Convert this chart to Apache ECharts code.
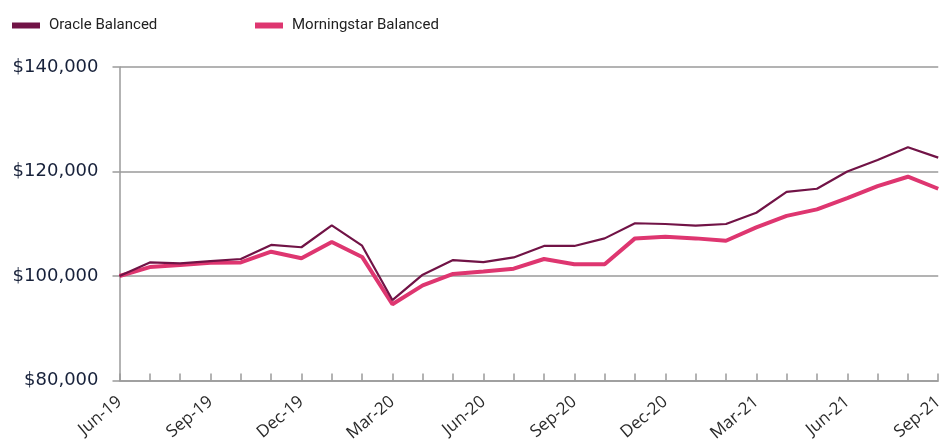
<!DOCTYPE html>
<html><head><meta charset="utf-8">
<script src="https://cdn.jsdelivr.net/npm/echarts@6/dist/echarts.min.js"></script>
<style>html,body{margin:0;padding:0;background:#fff}#c{width:946px;height:446px}</style>
</head><body><div id="c"></div>
<script>
const categories = ['Jun-19','Jul-19','Aug-19','Sep-19','Oct-19','Nov-19','Dec-19','Jan-20','Feb-20','Mar-20','Apr-20','May-20','Jun-20','Jul-20','Aug-20','Sep-20','Oct-20','Nov-20','Dec-20','Jan-21','Feb-21','Mar-21','Apr-21','May-21','Jun-21','Jul-21','Aug-21','Sep-21'];
const oracleBalanced = [100000,102600,102400,102850,103250,105950,105500,109700,105800,95400,100250,103050,102650,103550,105750,105750,107200,110100,109950,109650,109950,112100,116100,116700,120000,122200,124650,122650];
const morningstarBalanced = [100000,101700,102100,102550,102600,104650,103400,106500,103650,94600,98200,100400,100850,101400,103250,102250,102250,107200,107500,107200,106750,109300,111500,112750,114900,117200,119000,116700];
const seriesNames = ['Oracle Balanced','Morningstar Balanced'];

const chart = echarts.init(document.getElementById('c'), null, {renderer:'canvas'});
const legendText = {fontFamily:'Roboto', fontSize:15, color:'#222', padding:[0,0,0,4]};
const legendBase = {top:13, icon:'path://M0,0H28V6H0Z', itemWidth:28, itemHeight:6, textStyle:legendText,
  itemStyle:{borderWidth:0}, lineStyle:{width:0}};
chart.setOption({
  animation:false,
  legend:[
    Object.assign({data:[seriesNames[0]], left:7}, legendBase),
    Object.assign({data:[seriesNames[1]], left:250}, legendBase)
  ],
  grid:{left:119.5, right:2.5, top:67, bottom:65.5, containLabel:false},
  xAxis:{
    type:'category', data:categories, boundaryGap:false,
    axisLine:{lineStyle:{color:'#9a9a9a', width:1.5}},
    axisTick:{show:true, inside:true, length:7, interval:0, lineStyle:{color:'#9a9a9a', width:1.5}},
    axisLabel:{interval:2, rotate:40, margin:19, fontFamily:'Open Sans', fontSize:17, color:'#2a2a2a'}
  },
  yAxis:{
    type:'value', min:80000, max:140000, interval:20000,
    axisLine:{show:true, lineStyle:{color:'#9a9a9a', width:1.5}},
    axisTick:{show:true, length:7, lineStyle:{color:'#9a9a9a', width:1.5}},
    splitLine:{lineStyle:{color:'#9a9a9a', width:1.5}},
    axisLabel:{margin:21, fontFamily:'DejaVu Sans', fontSize:18, color:'#17213a',
      formatter:v=>'$'+v.toLocaleString('en-US')}
  },
  series:[
    {name:seriesNames[1], type:'line', data:morningstarBalanced, showSymbol:false, symbol:'none',
      lineStyle:{color:'#de3670', width:4}, itemStyle:{color:'#de3670'}, z:2},
    {name:seriesNames[0], type:'line', data:oracleBalanced, showSymbol:false, symbol:'none',
      lineStyle:{color:'#711346', width:2.2}, itemStyle:{color:'#711346'}, z:3}
  ]
});
</script></body></html>
